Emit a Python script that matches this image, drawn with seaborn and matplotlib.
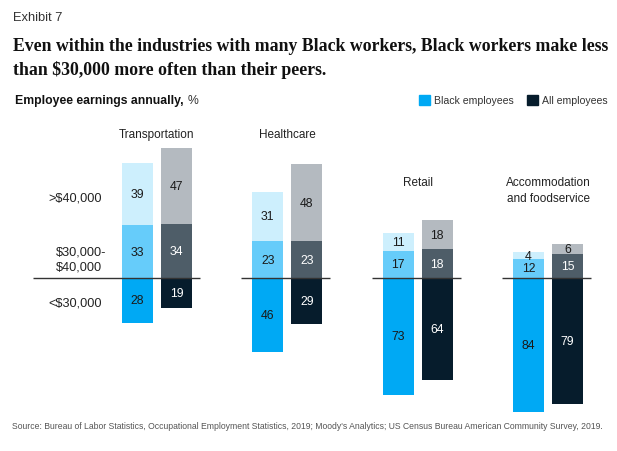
import matplotlib.pyplot as plt
import numpy as np
import seaborn as sns
from matplotlib.patches import Patch

# Data
industries = ['Transportation', 'Healthcare', 'Retail', 'Accommodation\nand foodservice']
black_under30 = [28, 46, 73, 84]
black_30to40 = [33, 23, 17, 12]
black_over40 = [39, 31, 11, 4]
all_under30 = [19, 29, 64, 79]
all_30to40 = [34, 23, 18, 15]
all_over40 = [47, 48, 18, 6]
band_labels = ['>$40,000', '$30,000-\n$40,000', '<$30,000']

# Colours
BLACK_COLS = ['#cdeffd', '#66ccfa', '#00a9f4']   # >40k, 30-40k, <30k
ALL_COLS = ['#b4bac0', '#4e5d68', '#061c2c']
DARK = '#1a1a1a'

sns.set_theme(style='white')
plt.rcParams['font.family'] = ['Liberation Sans', 'DejaVu Sans']

# pixel -> data helpers (layout only)
X0, XS = 156.9, 130.4
Y0, YS = 279.0, 1.6
def px_x(p):
    return (p - X0) / XS
def px_y(p):
    return (Y0 - p) / YS

fig = plt.figure(figsize=(6.17, 4.52), dpi=100)
ax = fig.add_axes([0, 0, 1, 1])
ax.set_xlim(px_x(0), px_x(617))
ax.set_ylim(px_y(452), px_y(0))
ax.axis('off')

x = np.arange(len(industries))
off, w = 0.15, 0.238
VAL_FS = 8.8

def draw_stack(xpos, under, mid, over, cols, text_cols):
    under_neg = [-v for v in under]
    ax.bar(xpos, under_neg, w, color=cols[2], linewidth=0)
    ax.bar(xpos, mid, w, color=cols[1], linewidth=0)
    ax.bar(xpos, over, w, bottom=mid, color=cols[0], linewidth=0)
    for i, xp in enumerate(xpos):
        ax.text(xp, -under[i] / 2, str(under[i]), ha='center', va='center',
                fontsize=VAL_FS, color=text_cols[2])
        ax.text(xp, mid[i] / 2, str(mid[i]), ha='center', va='center',
                fontsize=VAL_FS, color=text_cols[1])
        ax.text(xp, mid[i] + over[i] / 2, str(over[i]), ha='center', va='center',
                fontsize=VAL_FS, color=text_cols[0])

draw_stack(x - off, black_under30, black_30to40, black_over40, BLACK_COLS,
           [DARK, DARK, DARK])
draw_stack(x + off, all_under30, all_30to40, all_over40, ALL_COLS,
           [DARK, 'white', 'white'])

# baselines per group
for i in x:
    left = px_x(33) if i == 0 else i - 0.353
    ax.hlines(0, left, i + 0.33, color='#333333', linewidth=1)

# industry labels
label_top = [94, 94, 64, 64]
for i, name in enumerate(industries):
    ax.text(x[i], label_top[i], name, ha='center', va='top', fontsize=8.5,
            color='#222222', linespacing=1.45)

# earnings band labels
ax.text(px_x(102), px_y(199), band_labels[0], ha='right', va='center',
        fontsize=9.2, color='#222222')
ax.text(px_x(56), px_y(260), band_labels[1], ha='left', va='center',
        fontsize=9.2, color='#222222', linespacing=1.3)
ax.text(px_x(102), px_y(303), band_labels[2], ha='right', va='center',
        fontsize=9.2, color='#222222')

# header texts
fig.text(13 / 617, 1 - 18 / 452, 'Exhibit 7', fontsize=9.3, color='#333333',
         va='center')
fig.text(13 / 617, 1 - 38 / 452,
         'Even within the industries with many Black workers, Black workers make less\n'
         'than $30,000 more often than their peers.',
         fontsize=12.8, fontweight='bold', family=['Liberation Serif'],
         color='#111111', va='top', linespacing=1.45)
t = fig.text(15 / 617, 1 - 101 / 452, 'Employee earnings annually,', fontsize=8.8,
             fontweight='bold', color='#111111', va='center')
fig.canvas.draw()
bb = t.get_window_extent()
fig.text((bb.x1 + 4) / 617, 1 - 101 / 452, '%', fontsize=8.8, color='#333333',
         va='center')

handles = [Patch(color=BLACK_COLS[2], label='Black employees'),
           Patch(color=ALL_COLS[2], label='All employees')]
fig.legend(handles=handles, loc='center right', bbox_to_anchor=(1.0, 1 - 101 / 452),
           ncol=2, frameon=False, fontsize=7.6, handlelength=1.05, handleheight=1.05,
           handletextpad=0.35, columnspacing=1.3, labelcolor='#333333')

fig.text(12 / 617, 1 - 427 / 452,
         'Source: Bureau of Labor Statistics, Occupational Employment Statistics, 2019; '
         "Moody's Analytics; US Census Bureau American Community Survey, 2019.",
         fontsize=6.2, color='#555555', va='center')

plt.savefig('out.png', dpi=100)
plt.close()
